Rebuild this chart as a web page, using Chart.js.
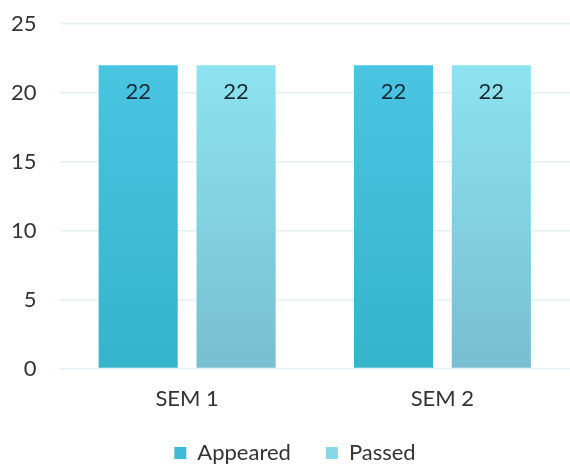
<!DOCTYPE html>
<html><head><meta charset="utf-8">
<script src="https://cdn.jsdelivr.net/npm/chart.js@4/dist/chart.umd.min.js"></script>
<style>html,body{margin:0;padding:0;background:#fff}#wrap{width:570px;height:467px}</style>
</head><body><div id="wrap"><canvas id="c" width="570" height="467"></canvas></div>
<script>
const categories = ["SEM 1", "SEM 2"];
const appeared = [22, 22];
const passed = [22, 22];
const yTicks = [0, 5, 10, 15, 20, 25];

const FONT = "Lato, 'Open Sans', sans-serif";

function grad(ctx, top, bottom) {
  const ch = ctx.chart; const a = ch.chartArea;
  if (!a) return top;
  const g = ch.ctx.createLinearGradient(0, a.top, 0, a.bottom);
  g.addColorStop(0, top); g.addColorStop(1, bottom);
  return g;
}

const valueLabels = {
  id: 'valueLabels',
  afterDatasetsDraw(chart) {
    const c = chart.ctx;
    c.save();
    c.font = "22px " + FONT;
    c.fillStyle = "#1b2b36";
    c.textAlign = "center"; c.textBaseline = "middle";
    chart.data.datasets.forEach((ds, i) => {
      chart.getDatasetMeta(i).data.forEach((bar, j) => {
        c.fillText(String(ds.data[j]), bar.x, bar.y + 27);
      });
    });
    c.restore();
  }
};

const legendTweak = {
  id: 'legendTweak',
  beforeLayout(chart) {
    const lg = chart.legend;
    if (lg && !lg.__tw) {
      const f = lg.fit;
      lg.fit = function () { f.call(this); this.height = 38; };
      lg.__tw = true;
    }
  },
  afterLayout(chart) {
    const lg = chart.legend;
    if (lg) { lg.top -= 22; lg.left += 16; lg.right += 16; }
  }
};

new Chart(document.getElementById('c'), {
  type: 'bar',
  data: {
    labels: categories,
    datasets: [
      { label: 'Appeared', data: appeared,
        backgroundColor: ctx => grad(ctx, '#4cc6e4', '#36b4cc'),
        categoryPercentage: 0.767, barPercentage: 0.808 },
      { label: 'Passed', data: passed,
        backgroundColor: ctx => grad(ctx, '#90e8f5', '#77bfd0'),
        categoryPercentage: 0.767, barPercentage: 0.808 }
    ]
  },
  options: {
    responsive: false, animation: false,
    layout: { padding: { left: -12, right: 0, top: 24, bottom: 0 } },
    plugins: {
      tooltip: { enabled: false },
      legend: {
        position: 'bottom',
        labels: {
          font: { family: FONT, size: 22 }, color: '#333',
          boxWidth: 12, boxHeight: 12, padding: 35,
          generateLabels(chart) {
            const cols = ['#3dbbd8', '#86d6e8'];
            return chart.data.datasets.map((d, i) => ({
              text: d.label, fillStyle: cols[i], strokeStyle: cols[i], lineWidth: 0,
              datasetIndex: i, hidden: false, fontColor: '#333'
            }));
          }
        }
      }
    },
    scales: {
      x: {
        grid: { display: false, drawTicks: false }, border: { display: false },
        ticks: { font: { family: FONT, size: 22 }, color: '#333', padding: 17 }
      },
      y: {
        min: 0, max: 25,
        afterBuildTicks(axis) { axis.ticks = yTicks.map(v => ({ value: v })); },
        afterFit(axis) { axis.paddingTop = 0; axis.paddingBottom = 0; },
        grid: { color: '#e3f1f3', lineWidth: 1.5, drawTicks: false },
        border: { display: false },
        ticks: { font: { family: FONT, size: 22 }, color: '#333', padding: 23 }
      }
    }
  },
  plugins: [valueLabels, legendTweak]
});
</script></body></html>
